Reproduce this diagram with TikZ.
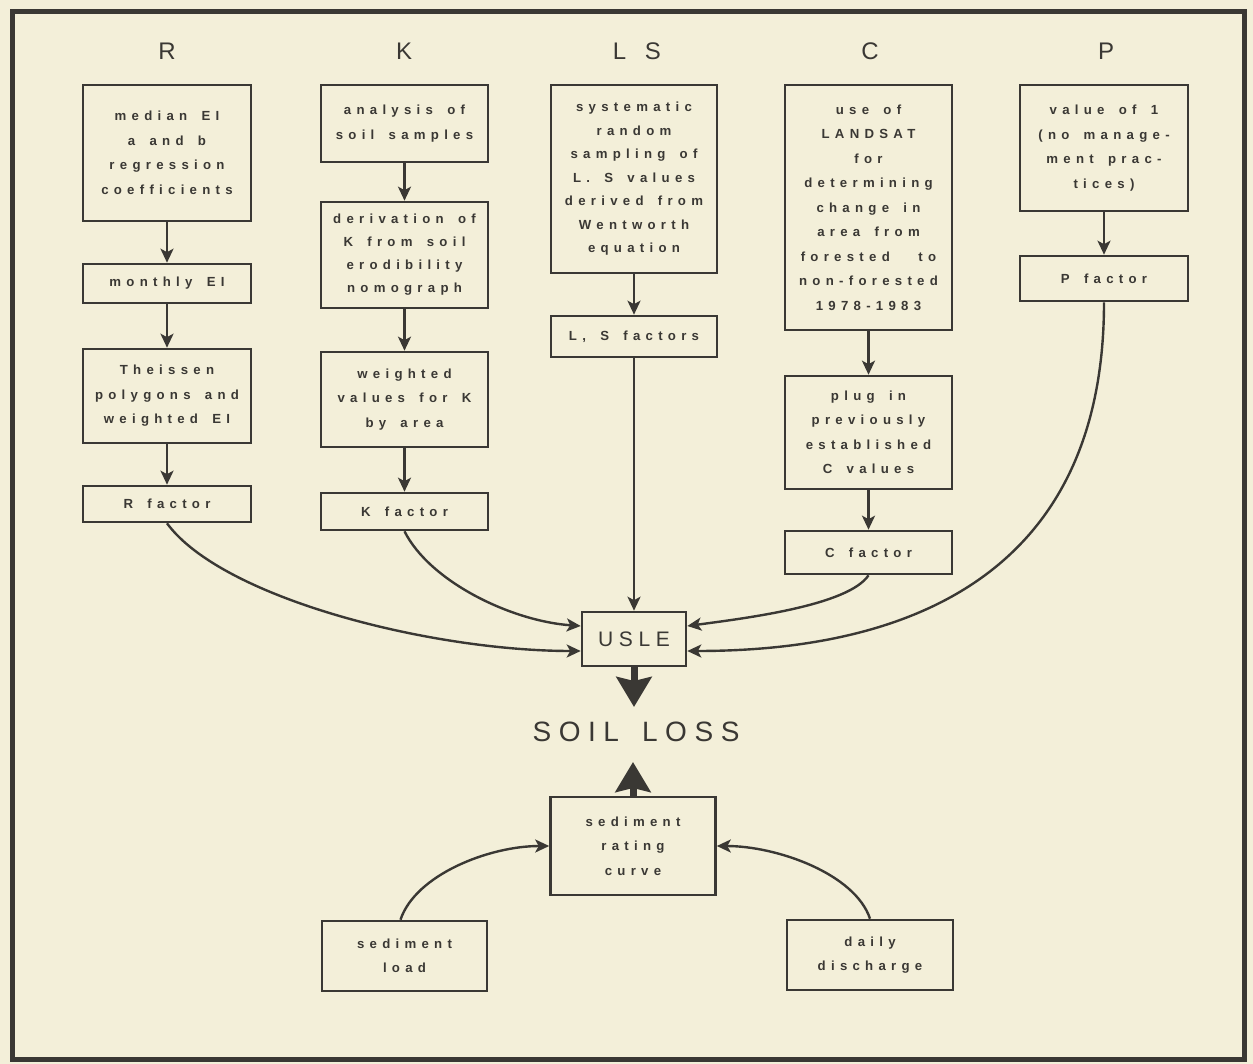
\documentclass[tikz,border=0pt]{standalone}
\usepackage{fontspec}
\setmainfont{Liberation Sans}
\newfontfamily\boxfont[LetterSpace=40,WordSpace=1.6]{Liberation Sans}
\newfontfamily\headfont[LetterSpace=50]{Liberation Sans}
\newfontfamily\soilfont[LetterSpace=27,WordSpace=1.5]{Liberation Sans}
\usetikzlibrary{arrows.meta}
\definecolor{bgc}{HTML}{F3EFD9}
\definecolor{ink}{HTML}{3A3834}
\begin{document}
\begin{tikzpicture}[x=1pt,y=-1pt,
  box/.style={draw=ink, line width=2.6pt, align=center, inner sep=0pt, text=ink,
    font={\fontsize{13.2}{24.5}\selectfont\boxfont\bfseries}},
  head/.style={text=ink, anchor=base, font={\fontsize{24}{28}\selectfont\headfont}},
  arr/.style={draw=ink, line width=2.4pt, -{Stealth[length=14pt,width=13pt,inset=3.5pt]}},
  bigarr/.style={draw=ink, line width=7pt, -{Stealth[length=30pt,width=35pt,inset=4pt]}}
]
\useasboundingbox (0,0) rectangle (1253,1064);
\fill[bgc] (0,0) rectangle (1253,1064);
\draw[ink, line width=5pt] (12,12) rectangle (1244,1059);

% headers
\node[head] (hR) at (167,60) {R};
\node[head] (hK) at (404,60) {K};
\node[head] (hLS) at (637,60) {L S};
\node[head] (hC) at (870,60) {C};
\node[head] (hP) at (1106,60) {P};

% R column
\node[box, minimum width=168, minimum height=136] (r1) at (167,153) {median EI\\a and b\\regression\\coefficients};
\node[box, minimum width=168, minimum height=39] (r2) at (167,283.5) {monthly EI};
\node[box, minimum width=168, minimum height=94] (r3) at (167,396) {Theissen\\polygons and\\weighted EI};
\node[box, minimum width=168, minimum height=36] (r4) at (167,504) {R factor};

% K column
\node[box, minimum width=167, minimum height=77] (k1) at (404.5,123.5) {analysis of\\soil samples};
\node[box, minimum width=167, minimum height=106, font={\fontsize{13.2}{23}\selectfont\boxfont\bfseries}] (k2) at (404.5,255) {derivation of\\K from soil\\erodibility\\nomograph};
\node[box, minimum width=167, minimum height=95] (k3) at (404.5,399.5) {weighted\\values for K\\by area};
\node[box, minimum width=167, minimum height=37] (k4) at (404.5,511.5) {K factor};

% LS column
\node[box, minimum width=166, minimum height=188, font={\fontsize{13.2}{23.5}\selectfont\boxfont\bfseries}] (l1) at (634,179) {systematic\\random\\sampling of\\L. S values\\derived from\\Wentworth\\equation};
\node[box, minimum width=166, minimum height=41] (l2) at (634,336.5) {L, S factors};

% C column
\node[box, minimum width=167, minimum height=245] (c1) at (868.5,207.5) {use of\\LANDSAT\\for\\determining\\change in\\area from\\forested\ \ to\\non-forested\\1978-1983};
\node[box, minimum width=167, minimum height=113] (c2) at (868.5,432.5) {plug in\\previously\\established\\C values};
\node[box, minimum width=167, minimum height=43] (c3) at (868.5,552.5) {C factor};

% P column
\node[box, minimum width=168, minimum height=126] (p1) at (1104,148) {value of 1\\(no manage-\\ment prac-\\tices)};
\node[box, minimum width=168, minimum height=45] (p2) at (1104,278.5) {P factor};

% USLE and soil loss
\node[box, minimum width=104, minimum height=54, font={\fontsize{21}{24}\selectfont\soilfont}] (usle) at (634,639) {USLE};
\node[text=ink, font={\fontsize{28}{32}\selectfont\soilfont}] (soil) at (636,732) {SOIL LOSS};
\node[box, minimum width=165, minimum height=98] (src) at (633,846) {sediment\\rating\\curve};
\node[box, minimum width=165, minimum height=70] (sl) at (404.5,956) {sediment\\load};
\node[box, minimum width=166, minimum height=70] (dd) at (870,955) {daily\\discharge};

\coordinate (tipdown) at (634,707);
\coordinate (tipup) at (633,762);

% vertical arrows
\draw[arr] (r1) -- (r2);
\draw[arr] (r2) -- (r3);
\draw[arr] (r3) -- (r4);
\draw[arr] (k1) -- (k2);
\draw[arr] (k2) -- (k3);
\draw[arr] (k3) -- (k4);
\draw[arr] (l1) -- (l2);
\draw[arr] (l2.south) -- (l2.south |- usle.north);
\draw[arr] (c1) -- (c2);
\draw[arr] (c2) -- (c3);
\draw[arr] (p1) -- (p2);

% curves into USLE
\draw[arr] (r4.south) .. controls +(55,75) and +(-150,0) .. ([yshift=-12pt]usle.west);
\draw[arr] (k4.south) .. controls +(25,50) and +(-70,-5) .. ([yshift=13pt]usle.west);
\draw[arr] (c3.south) .. controls +(-20,30) and +(60,-8) .. ([yshift=13pt]usle.east);
\draw[arr] (p2.south) .. controls +(0,300) and +(180,0) .. ([yshift=-12pt]usle.east);

% soil loss arrows
\draw[bigarr] (usle.south) -- (tipdown);
\draw[bigarr] (src.north) -- (tipup);

% sediment curves
\draw[arr] ([xshift=-4pt]sl.north) .. controls +(15,-45) and +(-60,0) .. (src.west);
\draw[arr] (dd.north) .. controls +(-15,-45) and +(60,0) .. (src.east);
\end{tikzpicture}
\end{document}
